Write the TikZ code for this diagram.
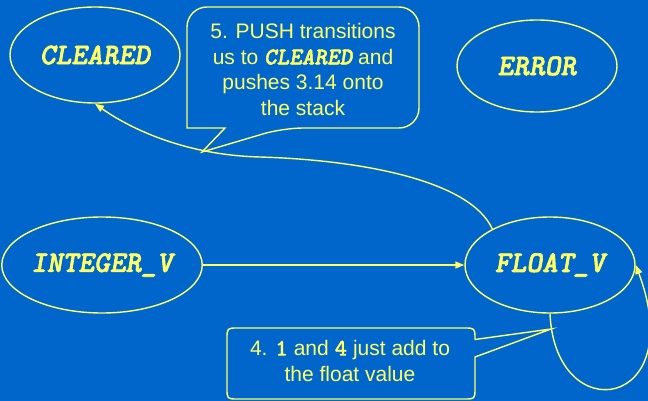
\documentclass[tikz,border=0pt]{standalone}
\usepackage{fontspec}
\setmainfont{Liberation Sans}
\newfontfamily\codebi{lmmonolt10-boldoblique}[Extension=.otf, FakeBold=2]
\newfontfamily\codeb{lmmonolt10-bold}[Extension=.otf, FakeBold=0.6]
\usetikzlibrary{shapes.geometric,arrows.meta}
\definecolor{bg}{HTML}{0066CC}
\definecolor{fg}{HTML}{FFFF66}
\begin{document}
\begin{tikzpicture}[x=1pt,y=-1pt,
  state/.style={ellipse, draw=fg, line width=1.4pt, minimum width=170pt, minimum height=96pt, inner sep=0pt, text=fg, font=\fontsize{30}{30}\selectfont\codebi},
  conn/.style={draw=fg, line width=1.4pt, -{Triangle[length=9pt,width=7pt]}},
  callout/.style={draw=fg, fill=bg, line width=1.4pt},
  ctext/.style={text=fg, align=center, font=\fontsize{21}{25.5}\selectfont, inner sep=0pt}]
\fill[bg] (0,0) rectangle (648,401);
\useasboundingbox (0,0) rectangle (648,401);
\clip (0,0) rectangle (648,401);
% states
\node[state] (cl) at (95,55) {CLEARED};
\node[state, minimum width=160pt, minimum height=92pt] (er) at (537,66) {ERROR};
\node[state] (iv) at (102,265) {INTEGER\_V};
\node[state] (fv) at (550,265) {FLOAT\_V};
% connectors
\draw[conn] (iv) -- (fv);
\draw[conn] (fv.148.6) .. controls (470,180) and (360,160) .. (260,157) .. controls (180,155) and (125,125) .. (cl.south);
\draw[conn] (fv.south) .. controls (555,430) and (690,410) .. (fv.east);
% callout 1
\draw[callout, rounded corners=20] (300,7) -- (419,7) -- (419,128) -- (283,128) [sharp corners] -- (202,152) -- (225,128) -- (187,128) [rounded corners=20] -- (187,7) -- cycle;
\node[ctext] (c1) at (303,69.6) {5. PUSH transitions\\us to {\fontsize{24}{25.5}\selectfont\codebi CLEARED} and\\pushes 3.14 onto\\the stack};
% callout 2
\draw[callout] (350,328) -- (464,328) .. controls (475,328) .. (475,339.5) -- (551,329) -- (475,357) -- (475,388) .. controls (475,399) .. (464,399) -- (238,399) .. controls (227,399) .. (227,388) -- (227,339) .. controls (227,328) .. (238,328) -- cycle;
\node[ctext] (c2) at (350,360.9) {4. {\fontsize{24}{25.5}\selectfont\codeb 1} and {\fontsize{24}{25.5}\selectfont\codeb 4} just add to\\the float value};
\end{tikzpicture}
\end{document}
